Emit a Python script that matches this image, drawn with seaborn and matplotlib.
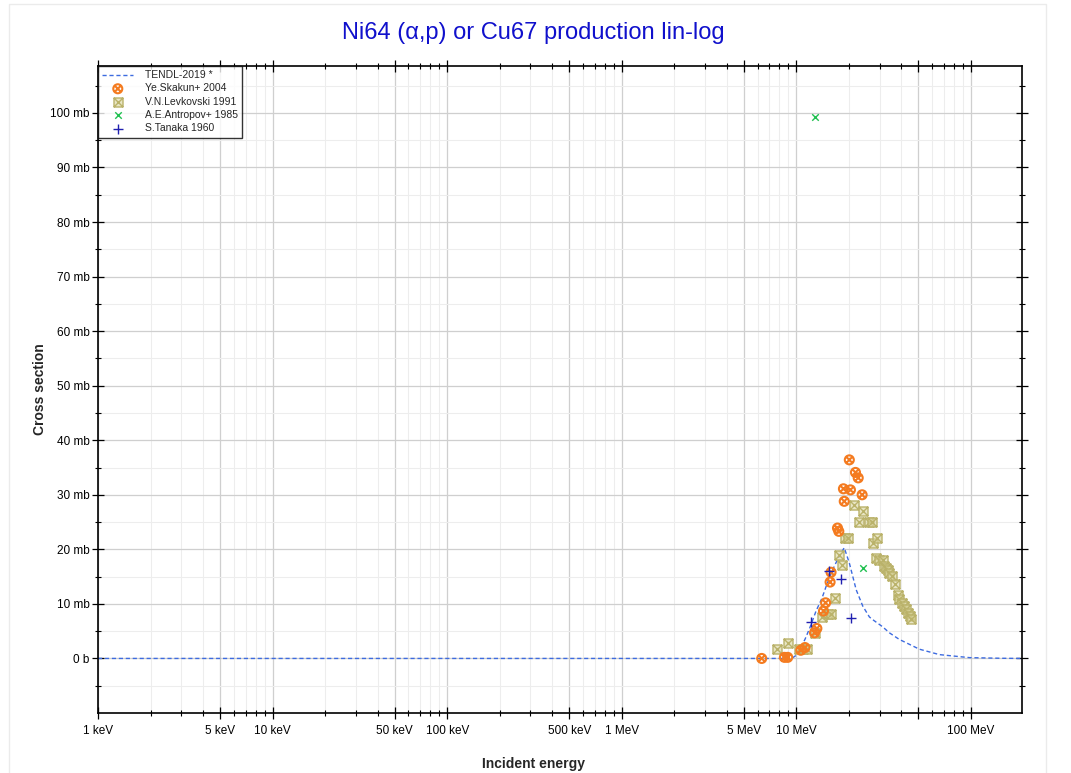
import numpy as np
import pandas as pd
import matplotlib
matplotlib.use('Agg')  # no display
import matplotlib.pyplot as plt
from matplotlib.path import Path
from matplotlib.patches import Rectangle
from matplotlib.ticker import FixedLocator, FixedFormatter, NullFormatter
import seaborn as sns

# --- data (energies in MeV, cross sections in mb) ---
tendl_energy = [0.001, 9.0, 9.5, 10.0, 10.4, 11.2, 11.9, 13.0, 14.0, 14.8, 16.0, 17.3,
                18.8, 20.1, 22.0, 24.0, 26.2, 27.4, 31.2, 34.1, 38.8, 42.4, 50.6, 66.0,
                98.0, 150.0, 200.0]
tendl_xs = [0.0, 0.0, 0.1, 0.6, 1.5, 3.5, 5.5, 8.8, 11.0, 13.2, 16.0, 18.3,
            20.3, 17.5, 12.6, 9.6, 7.6, 7.1, 5.8, 4.7, 3.5, 2.9, 1.7, 0.7,
            0.15, 0.03, 0.0]

skakun_energy = [6.33, 8.54, 8.92, 10.6, 11.2, 12.7, 13.1, 14.3, 14.7, 15.6, 15.8,
                 17.2, 17.5, 18.8, 18.6, 20.4, 20.1, 21.8, 22.6, 23.8]
skakun_xs = [0.0, 0.2, 0.2, 1.5, 2.0, 4.7, 5.5, 8.7, 10.2, 14.0, 15.8,
             23.9, 23.3, 28.8, 31.1, 30.9, 36.4, 34.1, 33.1, 30.0]

levkovski_energy = [7.75, 9.0, 10.3, 10.9, 11.5, 12.7, 14.1, 15.1, 15.8, 16.6, 17.5,
                    18.3, 19.0, 19.8, 21.5, 22.9, 24.2, 26.2, 27.2, 27.3, 28.8, 28.6,
                    29.9, 31.2, 31.9, 32.6, 33.3, 34.1, 35.3, 36.8, 38.4, 38.9, 40.1,
                    41.6, 42.5, 43.8, 44.8, 45.4]
levkovski_xs = [1.65, 2.75, 1.8, 1.8, 1.8, 4.6, 7.6, 8.1, 8.1, 11.1, 18.9,
                17.2, 22.0, 22.0, 28.1, 25.1, 27.1, 25.1, 25.1, 21.2, 22.0, 18.4,
                18.1, 18.0, 17.0, 16.6, 16.2, 15.7, 15.2, 13.6, 11.7, 10.9, 10.2,
                9.6, 9.0, 8.4, 7.7, 7.3]

antropov_energy = [12.85, 24.2]
antropov_xs = [99.2, 16.6]

tanaka_energy = [12.2, 15.3, 18.0, 20.6]
tanaka_xs = [6.6, 16.0, 14.6, 7.4]

x_major = [0.001, 0.005, 0.01, 0.05, 0.1, 0.5, 1, 5, 10, 50, 100]
x_major_labels = ['1 keV', '5 keV', '10 keV', '50 keV', '100 keV', '500 keV',
                  '1 MeV', '5 MeV', '10 MeV', '', '100 MeV']
y_major = [0, 10, 20, 30, 40, 50, 60, 70, 80, 90, 100]
y_major_labels = ['0 b'] + [f'{v} mb' for v in y_major[1:]]

tendl = pd.DataFrame({'energy': tendl_energy, 'xs': tendl_xs})
skakun = pd.DataFrame({'energy': skakun_energy, 'xs': skakun_xs})
levkovski = pd.DataFrame({'energy': levkovski_energy, 'xs': levkovski_xs})
antropov = pd.DataFrame({'energy': antropov_energy, 'xs': antropov_xs})
tanaka = pd.DataFrame({'energy': tanaka_energy, 'xs': tanaka_xs})

sns.set_style('white')
plt.rcParams['font.family'] = ['Liberation Sans', 'DejaVu Sans']

# crossed circle / crossed square marker shapes
cross = Path([(-0.707, -0.707), (0.707, 0.707), (-0.707, 0.707), (0.707, -0.707)],
             [Path.MOVETO, Path.LINETO, Path.MOVETO, Path.LINETO])
circle_x = Path.make_compound_path(Path.unit_circle(), cross)
sq = Path([(-1, -1), (1, -1), (1, 1), (-1, 1), (-1, -1)],
          [Path.MOVETO, Path.LINETO, Path.LINETO, Path.LINETO, Path.CLOSEPOLY])
sq_cross = Path([(-1, -1), (1, 1), (-1, 1), (1, -1)],
                [Path.MOVETO, Path.LINETO, Path.MOVETO, Path.LINETO])
square_x = Path.make_compound_path(sq, sq_cross)

fig = plt.figure(figsize=(10.71, 7.73), dpi=100)
ax = fig.add_axes([98 / 1071, 1 - 713 / 773, 924 / 1071, 647 / 773])

sns.lineplot(data=tendl, x='energy', y='xs', ax=ax, color='#3d6be0', lw=1.0,
             linestyle=(0, (3, 2)), label='TENDL-2019 *', legend=False)
sns.scatterplot(data=skakun, x='energy', y='xs', ax=ax, marker=circle_x, s=42,
                color='#f47b20', facecolor='none', edgecolor='#f47b20', linewidth=1.5,
                label='Ye.Skakun+ 2004', legend=False, zorder=4)
sns.scatterplot(data=levkovski, x='energy', y='xs', ax=ax, marker=square_x, s=42,
                color='#bab26a', facecolor=(0.85, 0.83, 0.62, 0.6), edgecolor='#bab26a',
                linewidth=1.0, label='V.N.Levkovski 1991', legend=False, zorder=3)
sns.scatterplot(data=antropov, x='energy', y='xs', ax=ax, marker='x', s=22,
                color='#20c050', linewidth=1.0, label='A.E.Antropov+ 1985',
                legend=False, zorder=5)
sns.scatterplot(data=tanaka, x='energy', y='xs', ax=ax, marker='+', s=60,
                color='#2020b0', linewidth=1.0, label='S.Tanaka 1960',
                legend=False, zorder=5)

ax.set_xscale('log')
ax.set_xlim(0.001, 196)
ax.set_ylim(-10, 108.6)

minor_x = [m * 10.0 ** d for d in range(-3, 3) for m in (2, 3, 4, 6, 7, 8, 9)]
minor_y = np.arange(-5, 110, 10)

ax.xaxis.set_major_locator(FixedLocator(x_major))
ax.xaxis.set_major_formatter(FixedFormatter(x_major_labels))
ax.xaxis.set_minor_locator(FixedLocator(minor_x))
ax.xaxis.set_minor_formatter(NullFormatter())
ax.yaxis.set_major_locator(FixedLocator(y_major))
ax.yaxis.set_major_formatter(FixedFormatter(y_major_labels))
ax.yaxis.set_minor_locator(FixedLocator(minor_y))

ax.grid(which='major', color='#cfcfcf', lw=0.9)
ax.grid(which='minor', color='#ededed', lw=0.8)
ax.set_axisbelow(True)

# ticks on all four edges
ax.tick_params(which='both', bottom=True, left=True, top=True, right=True)
ax.tick_params(which='major', direction='inout', length=8, width=0.9,
               labelsize=8.5, colors='black', pad=2)
ax.tick_params(which='minor', direction='inout', length=5, width=0.8, colors='black')
ax.tick_params(axis='x', pad=5)

for sp in ax.spines.values():
    sp.set_color('black')
    sp.set_linewidth(1.2)

ax.set_xlabel('Incident energy', fontsize=10, fontweight='bold')
ax.set_ylabel('Cross section', fontsize=10, fontweight='bold')
ax.xaxis.set_label_coords(0.471, -0.068)
ax.yaxis.set_label_coords(-0.055, 0.5)

leg = ax.legend(loc='upper left', fontsize=7.5, frameon=True, fancybox=False,
                borderaxespad=0.0, borderpad=0.4, labelspacing=0.32,
                handlelength=3.0, handletextpad=1.1, markerscale=1.0)
leg.get_frame().set_edgecolor('black')
leg.get_frame().set_linewidth(1.0)
leg.set_zorder(10)

fig.text(0.498, 0.957, 'Ni64 (α,p) or Cu67 production lin-log', ha='center',
         va='center', fontsize=17, color='#1010cc')

fig.patches.append(Rectangle((9 / 1071, -0.05), 1037 / 1071, 1.0448, fill=False,
                             edgecolor='#ebebeb', lw=1.0, transform=fig.transFigure))

fig.savefig('out.png', dpi=100)
